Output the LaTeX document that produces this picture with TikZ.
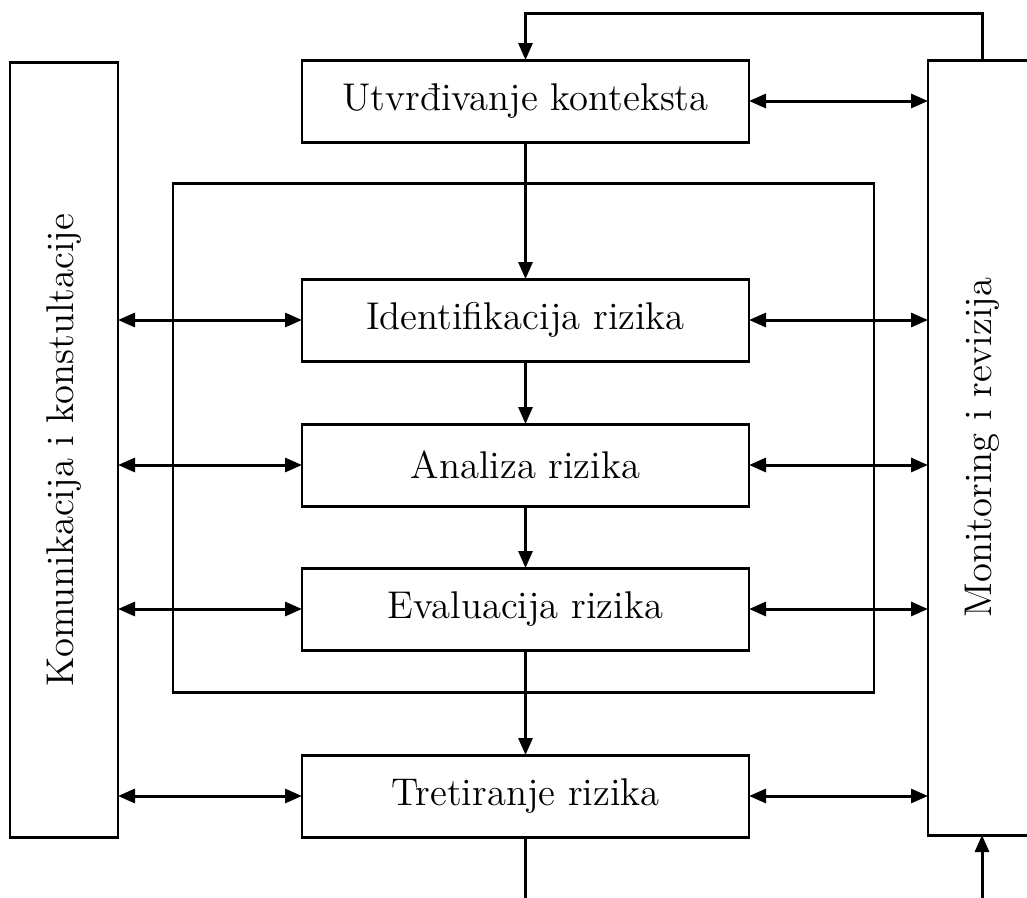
\documentclass[tikz,border=0pt]{standalone}
\usepackage{fontspec}
\usepackage{tikz}
\usetikzlibrary{arrows.meta, calc, positioning}
\tikzset{%
    edge/.style={%
        -{Triangle[length=1.7mm, width=1.4mm]},
    },
    twoway/.style={%
        {Triangle[length=1.7mm, width=1.4mm]}-{Triangle[length=1.7mm, width=1.4mm]},
    },
    phase/.style={%
        rectangle,
        draw=black, line width=0.85pt,
        minimum width=4.47cm,
        minimum height=0.82cm,
        inner sep=0pt, outer sep=0pt,
        font=\fontsize{11}{13}\selectfont,
        text centered,
    },
    side/.style={%
        rectangle,
        draw=black, line width=0.85pt,
        minimum width=7.75cm,
        minimum height=1.08cm,
        inner sep=0pt, outer sep=0pt,
        rotate=90,
        font=\fontsize{11}{13}\selectfont,
        text centered,
    },
}
\begin{document}
\begin{tikzpicture}[line width=0.85pt]
  \useasboundingbox (0, 0) rectangle (10.27, -8.97);
  \clip (0, 0) rectangle (10.27, -8.97);

  \coordinate (top_mid) at (5.255, -1.01);
  \coordinate (left_side) at (0.64, -4.50);
  \coordinate (right_side) at (9.82, -4.475);

  \node [phase] at (top_mid) (context) {Utvrđivanje konteksta};
  \node [phase, below=1.37cm of context] (ident) {Identifikacija rizika};
  \node [phase, below=0.63cm of ident] (analysis) {Analiza rizika};
  \node [phase, below=0.62cm of analysis] (evaluation) {Evaluacija rizika};
  \node [phase, below=1.05cm of evaluation] (treatment) {Tretiranje rizika};

  \node [side] at (left_side) (communication) {Komunikacija i konstultacije};
  \node [side] at (right_side) (monitoring) {Monitoring i revizija};

  % frame round the risk assessment
  \draw (1.73, -1.83) rectangle (8.74, -6.92);

  \draw[edge] (context) -- (ident);
  \draw[edge] (ident) -- (analysis);
  \draw[edge] (analysis) -- (evaluation);
  \draw[edge] (evaluation) -- (treatment);

  \draw[twoway] (context.east) -- (context.east -| monitoring.north);
  \draw[twoway] (ident.west) -- (ident.west -| communication.south);
  \draw[twoway] (ident.east) -- (ident.east -| monitoring.north);
  \draw[twoway] (analysis.west) -- (analysis.west -| communication.south);
  \draw[twoway] (analysis.east) -- (analysis.east -| monitoring.north);
  \draw[twoway] (evaluation.west) -- (evaluation.west -| communication.south);
  \draw[twoway] (evaluation.east) -- (evaluation.east -| monitoring.north);
  \draw[twoway] (treatment.west) -- (treatment.west -| communication.south);
  \draw[twoway] (treatment.east) -- (treatment.east -| monitoring.north);

  % feedback loops
  \coordinate (loop_top) at ($(monitoring.east) + (0, 0.47)$);
  \coordinate (loop_bottom) at ($(treatment.south) + (0, -0.75)$);
  \draw[edge] (monitoring.east) -- (loop_top) -| (context.north);
  \draw[edge] (treatment.south) -- (loop_bottom) -| (monitoring.west);
\end{tikzpicture}
\end{document}
